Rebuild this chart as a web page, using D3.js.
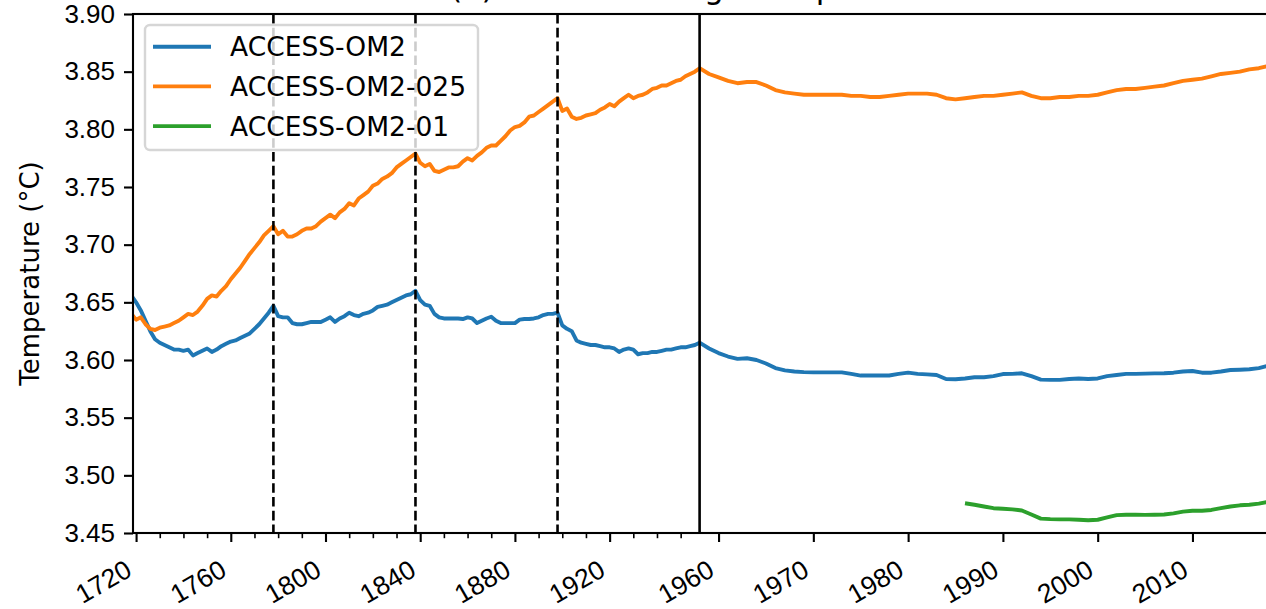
<!DOCTYPE html>
<html lang="en">
<head>
<meta charset="UTF-8">
<title>Global average temperature</title>
<script src="https://d3js.org/d3.v7.min.js"></script>
<style>
  body { margin: 0; background: #fff; }
  svg { display: block; font-family: "DejaVu Sans", sans-serif; }
  .tick text { font-size: 26px; fill: #000; }
  .tick line { stroke: #000; }
</style>
</head>
<body>
<svg width="1266" height="609"></svg>
<script>
// spin-up cycles (4 x 60 yr), drawn on a squeezed pseudo-year axis 1718-1958
const spinYears = d3.range(1718, 1959, 2);
const spinOM2 = [
  3.656, 3.650, 3.643, 3.634, 3.625, 3.618, 3.615, 3.613, 3.611, 3.609, 3.609, 3.608, 3.609, 3.604, 3.606, 3.608,
  3.610, 3.607, 3.609, 3.612, 3.614, 3.616, 3.617, 3.619, 3.621, 3.623, 3.627, 3.631, 3.636, 3.641, 3.647,
  3.638, 3.637, 3.637, 3.632, 3.631, 3.631, 3.632, 3.633, 3.633, 3.633, 3.635, 3.637, 3.633, 3.636, 3.638,
  3.641, 3.639, 3.638, 3.640, 3.641, 3.643, 3.646, 3.647, 3.648, 3.650, 3.652, 3.654, 3.656, 3.657, 3.660,
  3.652, 3.648, 3.647, 3.640, 3.637, 3.636, 3.636, 3.636, 3.636, 3.6355, 3.637, 3.636, 3.632, 3.634, 3.636,
  3.6375, 3.634, 3.632, 3.632, 3.632, 3.632, 3.635, 3.6355, 3.6355, 3.636, 3.637, 3.639, 3.640, 3.640, 3.641,
  3.630, 3.627, 3.625, 3.617, 3.615, 3.614, 3.613, 3.613, 3.612, 3.611, 3.611, 3.610, 3.607, 3.609, 3.610,
  3.609, 3.605, 3.606, 3.606, 3.607, 3.607, 3.608, 3.609, 3.609, 3.610, 3.611, 3.611, 3.612, 3.613, 3.615
];
const spinOM2025 = [
  3.640, 3.635, 3.637, 3.631, 3.627, 3.626, 3.628, 3.629, 3.630, 3.632, 3.634, 3.637, 3.640, 3.639, 3.642, 3.647,
  3.653, 3.656, 3.655, 3.660, 3.664, 3.670, 3.675, 3.680, 3.686, 3.692, 3.697, 3.702, 3.708, 3.712, 3.716,
  3.709, 3.712, 3.707, 3.707, 3.709, 3.712, 3.714, 3.714, 3.716, 3.720, 3.723, 3.726, 3.723, 3.728, 3.731,
  3.736, 3.734, 3.740, 3.743, 3.746, 3.751, 3.753, 3.757, 3.759, 3.762, 3.767, 3.770, 3.773, 3.776, 3.779,
  3.771, 3.768, 3.770, 3.764, 3.763, 3.765, 3.767, 3.767, 3.768, 3.772, 3.775, 3.773, 3.777, 3.780, 3.784,
  3.786, 3.786, 3.790, 3.794, 3.799, 3.802, 3.803, 3.806, 3.811, 3.812, 3.815, 3.818, 3.821, 3.824, 3.827,
  3.816, 3.818, 3.811, 3.809, 3.810, 3.812, 3.813, 3.814, 3.817, 3.819, 3.822, 3.820, 3.824, 3.827, 3.830,
  3.827, 3.829, 3.830, 3.832, 3.835, 3.836, 3.838, 3.838, 3.840, 3.842, 3.843, 3.846, 3.848, 3.850, 3.853
];

// final cycle, real years
const histYears = d3.range(1958, 2019);
const histOM2 = [
  3.615, 3.610, 3.606, 3.603, 3.601, 3.6015, 3.600, 3.597, 3.593, 3.591,
  3.590, 3.5895, 3.5893, 3.5893, 3.5893, 3.5893, 3.588, 3.5865, 3.5865, 3.5865,
  3.5866, 3.588, 3.589, 3.588, 3.5875, 3.587, 3.5835, 3.5833, 3.584, 3.585,
  3.585, 3.586, 3.5878, 3.588, 3.5885, 3.586, 3.583, 3.5828, 3.5828, 3.5835,
  3.584, 3.5835, 3.584, 3.586, 3.587, 3.588, 3.588, 3.5882, 3.5884, 3.5885,
  3.589, 3.590, 3.5905, 3.589, 3.589, 3.590, 3.5913, 3.5916, 3.592, 3.593,
  3.595
];
const histOM2025 = [
  3.853, 3.848, 3.845, 3.842, 3.840, 3.841, 3.841, 3.838, 3.834, 3.832,
  3.831, 3.830, 3.830, 3.830, 3.830, 3.830, 3.829, 3.829, 3.828, 3.828,
  3.829, 3.830, 3.831, 3.831, 3.831, 3.830, 3.827, 3.826, 3.827, 3.828,
  3.829, 3.829, 3.830, 3.831, 3.832, 3.829, 3.827, 3.827, 3.828, 3.828,
  3.829, 3.829, 3.830, 3.832, 3.834, 3.835, 3.835, 3.836, 3.837, 3.838,
  3.840, 3.842, 3.843, 3.844, 3.846, 3.848, 3.849, 3.850, 3.852, 3.853,
  3.855
];
const om201Years = d3.range(1986, 2019);
const om201 = [
  3.4758, 3.4745, 3.473, 3.4715, 3.471, 3.4705, 3.4695, 3.466, 3.4625, 3.462,
  3.4618, 3.4618, 3.4615, 3.461, 3.4615, 3.4635, 3.4655, 3.4658, 3.4658, 3.4657,
  3.4658, 3.466, 3.467, 3.4685, 3.4693, 3.4693, 3.470, 3.4715, 3.473, 3.474,
  3.4745, 3.4755, 3.477
];

const cycleEnds = [1778, 1838, 1898];
const spinEnd = 1958;
const majorYears = [1720, 1760, 1800, 1840, 1880, 1920, 1960, 1970, 1980, 1990, 2000, 2010];
const minorYears = [1730, 1740, 1750, 1770, 1780, 1790, 1810, 1820, 1830, 1850, 1860, 1870,
                    1890, 1900, 1910, 1930, 1940, 1950];
const yTicks = [3.45, 3.50, 3.55, 3.60, 3.65, 3.70, 3.75, 3.80, 3.85, 3.90];
const seriesNames = ['ACCESS-OM2', 'ACCESS-OM2-025', 'ACCESS-OM2-01'];
const colors = ['#1f77b4', '#ff7f0e', '#2ca02c'];

const zip = (xs, vs) => xs.map((t, i) => ({ t: t, v: vs[i] }));
const series = [
  zip(spinYears, spinOM2).concat(zip(histYears, histOM2).slice(1)),
  zip(spinYears, spinOM2025).concat(zip(histYears, histOM2025).slice(1)),
  zip(om201Years, om201)
];

const axL = 133, axR = 1268.3, axT = 14, axB = 533;
const svg = d3.select('svg');

// piecewise time scale: spin-up squeezed, last cycle stretched
const x = d3.scaleLinear().domain([1718.7, spinEnd, 2018]).range([axL, 699.6, axR]);
const y = d3.scaleLinear().domain([3.45, 3.90]).range([axB, axT]);

svg.append('clipPath').attr('id', 'clip')
  .append('rect').attr('x', axL).attr('y', axT).attr('width', axR - axL).attr('height', axB - axT);

const line = d3.line().x(d => x(d.t)).y(d => y(d.v));
const plot = svg.append('g').attr('clip-path', 'url(#clip)');
series.forEach((s, i) => {
  plot.append('path').datum(s)
    .attr('d', line)
    .attr('fill', 'none')
    .attr('stroke', colors[i])
    .attr('stroke-width', 3.9)
    .attr('stroke-linejoin', 'round');
});

// cycle boundaries
cycleEnds.forEach(c => {
  plot.append('line')
    .attr('x1', x(c)).attr('x2', x(c)).attr('y1', axT).attr('y2', axB)
    .attr('stroke', '#000').attr('stroke-width', 2.6).attr('stroke-dasharray', '9.6,4.2');
});
plot.append('line')
  .attr('x1', x(spinEnd)).attr('x2', x(spinEnd)).attr('y1', axT).attr('y2', axB)
  .attr('stroke', '#000').attr('stroke-width', 2.6);

// axes
const xAxis = svg.append('g').attr('transform', `translate(0,${axB})`)
  .call(d3.axisBottom(x).tickValues(majorYears).tickFormat(d3.format('d')).tickSize(9).tickSizeOuter(0));
svg.append('g').attr('transform', `translate(0,${axB})`)
  .call(d3.axisBottom(x).tickValues(minorYears).tickFormat('').tickSize(5.2).tickSizeOuter(0))
  .call(g => g.select('.domain').remove())
  .selectAll('.tick line').attr('stroke-width', 1.6);
xAxis.select('.domain').remove();
xAxis.selectAll('.tick line').attr('stroke-width', 2.1);

// rotate labels 30 deg, right edge at tick, top edge under the tick
xAxis.selectAll('.tick text').style('font-size', '26.5px').each(function() {
  const t = d3.select(this).attr('x', 0).attr('y', 0).attr('dy', null).attr('text-anchor', 'end');
  const b = this.getBBox();
  const a = -30 * Math.PI / 180;
  const pts = [[b.x, b.y], [b.x + b.width, b.y], [b.x, b.y + b.height], [b.x + b.width, b.y + b.height]]
    .map(p => [p[0] * Math.cos(a) - p[1] * Math.sin(a), p[0] * Math.sin(a) + p[1] * Math.cos(a)]);
  const maxX = d3.max(pts, p => p[0]);
  const minY = d3.min(pts, p => p[1]);
  t.attr('transform', `translate(${-maxX},${21 - minY}) rotate(-30)`);
});

const yAxis = svg.append('g').attr('transform', `translate(${axL},0)`)
  .call(d3.axisLeft(y).tickValues(yTicks).tickFormat(d3.format('.2f')).tickSize(9).tickPadding(9).tickSizeOuter(0));
yAxis.select('.domain').remove();
yAxis.selectAll('.tick line').attr('stroke-width', 2.1);

// spines
svg.append('rect')
  .attr('x', axL).attr('y', axT).attr('width', axR - axL).attr('height', axB - axT)
  .attr('fill', 'none').attr('stroke', '#000').attr('stroke-width', 2.1);

svg.append('text')
  .attr('transform', `translate(38.5,${(axT + axB) / 2}) rotate(-90)`)
  .attr('text-anchor', 'middle')
  .style('font-size', '26px')
  .text('Temperature (°C)');

// title sits above the top edge, only its descenders show (as in the original)
svg.append('text')
  .attr('x', (axL + axR) / 2).attr('y', axT - 15.6)
  .attr('text-anchor', 'middle')
  .style('font-size', '31.5px')
  .text('(a) Global average temperature');

// legend
const legend = svg.append('g');
legend.append('rect')
  .attr('x', 145).attr('y', 25).attr('width', 333).attr('height', 125).attr('rx', 5)
  .attr('fill', '#fff').attr('fill-opacity', 0.8)
  .attr('stroke', '#cccccc').attr('stroke-opacity', 0.8).attr('stroke-width', 2.4);
seriesNames.forEach((name, i) => {
  const ly = 46.7 + i * 39.7;
  legend.append('line')
    .attr('x1', 153).attr('x2', 211).attr('y1', ly).attr('y2', ly)
    .attr('stroke', colors[i]).attr('stroke-width', 3.9);
  legend.append('text')
    .attr('x', 230).attr('y', ly).attr('dy', '0.36em')
    .style('font-size', '26.5px')
    .text(name);
});
</script>
</body>
</html>
